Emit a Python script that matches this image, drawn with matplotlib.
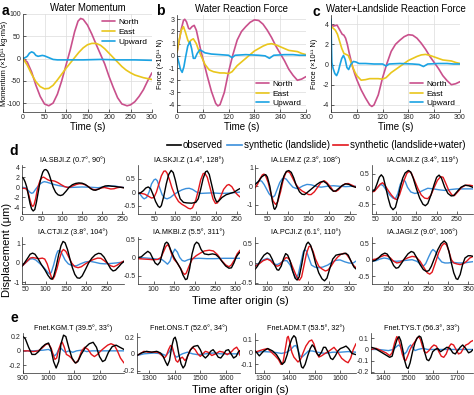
import matplotlib
matplotlib.use('Agg')
import matplotlib.pyplot as plt
from matplotlib.ticker import FuncFormatter
from matplotlib.lines import Line2D

plt.rcParams['font.family'] = ['Liberation Sans', 'DejaVu Sans']
plt.rcParams['axes.unicode_minus'] = False

# ---------------- panel a: water momentum (x1e11 kg m/s) ----------------
a_north = [(0, 0), (10, -8), (20, -30), (30, -60), (40, -85), (50, -102), (60, -106), (70, -100),
           (80, -80), (90, -50), (100, -15), (110, 20), (120, 60), (128, 84), (134, 90), (140, 88),
           (150, 75), (160, 55), (170, 32), (180, 10), (190, -12), (200, -40), (210, -65),
           (220, -88), (230, -102), (242, -106), (250, -104), (260, -97), (270, -85), (280, -70),
           (290, -50), (300, -32)]
a_east = [(0, 0), (10, -15), (20, -35), (30, -52), (40, -63), (50, -68), (60, -67), (70, -60),
          (80, -48), (90, -35), (100, -22), (110, -10), (120, 2), (130, 14), (140, 24), (150, 31),
          (160, 34), (170, 34), (180, 30), (190, 22), (200, 12), (210, 2), (220, -8), (230, -18),
          (240, -26), (250, -32), (260, -37), (270, -40), (280, -43), (290, -45), (300, -47)]
a_up = [(0, 0), (5, 2), (10, 5), (15, 12), (20, 15), (25, 13), (30, 7), (35, 5), (40, 6),
        (45, 7), (50, 6), (60, 2), (70, -2), (80, -3), (100, -3), (140, -3), (180, -2),
        (220, -3), (260, -3), (300, -4)]

# ---------------- panel b: water reaction force (x1e11 N) ----------------
b_north = [(0, 0.3), (5, 1.2), (10, 2.2), (15, 2.9), (18, 3.0), (22, 2.8), (27, 2.25), (30, 2.2),
           (35, 2.4), (40, 2.5), (45, 2.1), (50, 1.3), (55, 0.5), (60, -0.2), (70, -1.6),
           (80, -2.9), (90, -3.9), (95, -4.1), (100, -4.0), (110, -3.0), (120, -1.3), (130, 0.1),
           (140, 1.3), (150, 2.0), (160, 2.4), (170, 2.75), (180, 2.95), (190, 2.9), (200, 2.6),
           (210, 2.1), (220, 1.5), (230, 0.8), (240, 0.2), (250, -0.4), (260, -1.1), (270, -1.6),
           (280, -2.0), (290, -1.9), (300, -1.7)]
b_east = [(0, 0.3), (5, 1.3), (10, 2.1), (15, 2.4), (20, 1.9), (25, 1.3), (28, 1.1), (33, 1.3),
          (38, 1.4), (45, 1.0), (50, 0.5), (56, 0.0), (65, -0.7), (75, -1.15), (85, -1.3),
          (100, -1.4), (110, -1.4), (120, -1.45), (128, -1.3), (140, -0.8), (150, -0.5),
          (160, -0.2), (170, 0.1), (180, 0.4), (190, 0.6), (200, 0.8), (210, 0.95), (220, 1.0),
          (230, 0.9), (240, 0.75), (250, 0.6), (260, 0.45), (270, 0.4), (280, 0.35), (290, 0.2),
          (300, 0.1)]
b_up = [(0, 0), (4, -0.5), (8, -1.1), (12, -1.35), (16, -0.9), (20, -0.1), (25, 0.8), (30, 1.15),
        (34, 0.6), (38, -0.2), (42, -0.2), (47, 0.2), (53, 0.5), (58, 0.4), (65, 0.25),
        (80, 0.15), (100, 0.1), (120, 0.05), (128, -0.15), (135, 0.05), (160, 0.1), (190, 0.05),
        (205, 0.0), (215, -0.2), (225, 0.05), (250, 0.1), (270, 0.1), (285, 0.05), (300, 0.05)]

# ---------------- panel c: water+landslide reaction force ----------------
c_north = [(0, 4.0), (5, 3.8), (10, 3.85), (14, 3.9), (18, 3.6), (22, 3.3), (26, 3.0), (30, 2.9),
           (34, 2.6), (38, 2.0), (42, 1.2), (46, 0.5), (50, -0.2), (55, -0.9), (60, -1.5),
           (70, -2.5), (80, -3.3), (90, -4.0), (95, -4.15), (100, -4.0), (110, -3.0), (120, -1.3),
           (130, 0.1), (140, 1.3), (150, 2.0), (160, 2.4), (170, 2.75), (180, 2.95), (190, 2.9),
           (200, 2.6), (210, 2.1), (220, 1.5), (230, 0.8), (240, 0.2), (250, -0.4), (260, -1.1),
           (270, -1.6), (280, -2.0), (290, -1.9), (300, -1.7)]
c_east = [(0, 3.8), (5, 3.6), (10, 3.4), (15, 3.0), (20, 2.3), (25, 1.6), (30, 1.1), (35, 1.0),
          (40, 0.9), (45, 0.4), (50, -0.2), (55, -0.7), (60, -1.1), (70, -1.55), (80, -1.5),
          (90, -1.4), (110, -1.4), (120, -1.45), (128, -1.3), (140, -0.8), (150, -0.5),
          (160, -0.2), (170, 0.1), (180, 0.4), (190, 0.6), (200, 0.8), (210, 0.95), (220, 1.0),
          (230, 0.9), (240, 0.75), (250, 0.6), (260, 0.45), (270, 0.4), (280, 0.35), (290, 0.2),
          (300, 0.1)]
c_up = [(0, 4.5), (1, 2.0), (2, 0.2), (5, -0.4), (9, -0.9), (13, -1.1), (17, -0.7), (21, 0.0),
        (25, 0.6), (29, 0.9), (33, 0.5), (37, -0.3), (41, -0.5), (46, 0.0), (52, 0.3),
        (58, 0.25), (65, 0.1), (80, 0.1), (100, 0.05), (120, 0.05), (128, -0.15), (135, 0.05),
        (160, 0.1), (190, 0.05), (205, 0.0), (215, -0.2), (225, 0.05), (250, 0.1), (270, 0.1),
        (285, 0.05), (300, 0.05)]

# ---------------- panel d: IA stations (um) ----------------
d_titles = ['IA.SBJI.Z (0.7°, 90°)', 'IA.SKJI.Z (1.4°, 128°)', 'IA.LEM.Z (2.3°, 108°)',
            'IA.CMJI.Z (3.4°, 119°)', 'IA.CTJI.Z (3.8°, 104°)', 'IA.MKBI.Z (5.5°, 311°)',
            'IA.PCJI.Z (6.1°, 110°)', 'IA.JAGI.Z (9.0°, 106°)']
d_xlims = [(0, 255), (9, 258), (20, 265), (40, 290), (42, 293), (62, 311), (70, 317), (110, 362)]
d_xticks = [[0, 50, 100, 150, 200, 250], [50, 100, 150, 200, 250], [50, 100, 150, 200, 250],
            [50, 100, 150, 200, 250], [50, 100, 150, 200, 250], [100, 150, 200, 250, 300],
            [100, 150, 200, 250, 300], [150, 200, 250, 300, 350]]
d_ylims = [(-5.3, 4.4), (-0.81, 1.0), (-1.5, 1.15), (-0.82, 0.78), (-1.1, 1.35), (-0.72, 0.56),
           (-0.53, 0.66), (-0.74, 0.69)]
d_yticks = [[-4, -2, 0, 2, 4], [-0.5, 0, 0.5], [-1, 0, 1], [-0.5, 0, 0.5], [-1, 0, 1],
            [-0.5, 0, 0.5], [-0.5, 0, 0.5], [-0.5, 0, 0.5]]

sbji_obs = [(0, 2.0), (4, 1.7), (8, 1.0), (12, 0.0), (16, -1.6), (20, -3.2), (24, -4.3), (28, -4.7),
            (32, -4.4), (36, -3.0), (40, -1.2), (44, 0.6), (48, 2.0), (52, 3.0), (56, 3.45),
            (60, 3.5), (64, 3.2), (68, 2.5), (74, 1.0), (78, 0.0), (84, -1.0), (90, -1.5),
            (96, -1.65), (102, -1.5), (110, -0.8), (118, 0.0), (126, 0.5), (134, 0.75), (142, 0.85),
            (150, 0.8), (158, 0.55), (166, 0.1), (172, -0.3), (178, -0.55), (184, -0.6),
            (192, -0.35), (200, 0.0), (208, 0.25), (216, 0.3), (224, 0.2), (232, 0.15), (240, 0.05),
            (250, -0.05), (255, -0.1)]
sbji_land = [(0, 0.0), (8, -0.1), (14, -0.5), (20, -1.0), (24, -1.2), (28, -1.1), (34, -0.4),
             (40, 0.2), (46, 0.7), (52, 1.0), (56, 1.1), (62, 1.0), (70, 0.8), (80, 0.55),
             (90, 0.35), (100, 0.2), (110, 0.05), (120, -0.05), (135, 0.0), (150, 0.05), (170, 0.0),
             (190, -0.1), (205, 0.05), (220, 0.25), (235, 0.2), (245, 0.05), (255, -0.05)]
sbji_both = [(0, -0.2), (8, -0.25), (12, -0.4), (16, -1.2), (20, -2.5), (24, -3.5), (27, -3.8),
             (30, -3.5), (34, -2.3), (38, -0.6), (42, 0.6), (46, 1.5), (50, 1.9), (54, 2.0),
             (58, 1.8), (64, 1.5), (70, 1.3), (76, 1.3), (82, 1.2), (90, 0.9), (98, 0.5),
             (106, 0.15), (114, -0.05), (120, 0.0), (128, 0.3), (136, 0.55), (144, 0.7),
             (152, 0.65), (160, 0.4), (168, 0.0), (176, -0.4), (182, -0.5), (190, -0.4),
             (198, -0.15), (206, -0.05), (214, -0.2), (222, -0.35), (230, -0.3), (238, -0.1),
             (246, 0.0), (255, -0.1)]

skji_obs = [(9, -0.06), (15, -0.03), (22, 0.05), (28, 0.15), (34, 0.19), (40, 0.12), (46, -0.1),
            (52, -0.35), (58, -0.52), (62, -0.57), (66, -0.5), (72, -0.15), (78, 0.3), (84, 0.65),
            (90, 0.8), (95, 0.72), (100, 0.45), (106, 0.05), (112, -0.25), (120, -0.38),
            (128, -0.4), (140, -0.41), (150, -0.38), (156, -0.25), (162, 0.1), (168, 0.5),
            (174, 0.75), (178, 0.78), (183, 0.65), (190, 0.2), (196, -0.2), (201, -0.37),
            (206, -0.33), (214, -0.2), (224, -0.1), (234, -0.05), (244, 0.0), (252, 0.08),
            (258, 0.13)]
skji_land = [(9, 0.0), (14, -0.08), (20, -0.2), (24, -0.25), (30, -0.2), (36, 0.0), (42, 0.3),
             (48, 0.45), (52, 0.48), (56, 0.42), (62, 0.15), (68, -0.1), (74, -0.22), (80, -0.25),
             (88, -0.2), (96, -0.1), (106, 0.0), (116, 0.08), (126, 0.13), (134, 0.14), (142, 0.1),
             (152, 0.0), (162, -0.05), (174, -0.04), (190, -0.03), (210, -0.05), (230, -0.04),
             (245, -0.02), (258, 0.0)]
skji_both = [(9, -0.04), (18, -0.05), (26, -0.08), (34, -0.15), (42, -0.22), (48, -0.2), (54, 0.0),
             (60, 0.3), (66, 0.6), (72, 0.77), (76, 0.78), (80, 0.7), (86, 0.45), (92, 0.15),
             (100, -0.15), (108, -0.35), (116, -0.45), (124, -0.52), (132, -0.6), (137, -0.62),
             (142, -0.58), (150, -0.3), (156, 0.05), (162, 0.45), (168, 0.68), (172, 0.7),
             (178, 0.55), (186, 0.1), (192, -0.25), (198, -0.42), (203, -0.4), (210, -0.2),
             (218, 0.1), (226, 0.25), (231, 0.28), (238, 0.2), (246, 0.0), (252, -0.1), (258, -0.18)]

lem_obs = [(20, 0.09), (28, 0.25), (36, 0.5), (42, 0.6), (46, 0.63), (50, 0.5), (56, 0.0),
           (62, -0.8), (66, -1.2), (68, -1.25), (72, -1.1), (78, -0.5), (84, 0.1), (90, 0.55),
           (96, 0.8), (102, 0.85), (108, 0.75), (114, 0.45), (120, 0.05), (128, -0.3), (134, -0.43),
           (140, -0.45), (146, -0.35), (154, -0.2), (162, -0.05), (170, 0.1), (178, 0.22),
           (186, 0.27), (194, 0.15), (202, -0.1), (210, -0.27), (216, -0.25), (224, -0.1),
           (232, 0.05), (240, 0.13), (248, 0.1), (256, 0.0), (265, -0.06)]
lem_land = [(20, 0.09), (26, 0.22), (32, 0.3), (36, 0.28), (42, 0.1), (48, -0.15), (54, -0.4),
            (60, -0.55), (64, -0.58), (68, -0.5), (74, -0.15), (80, 0.2), (86, 0.4), (90, 0.45),
            (96, 0.38), (104, 0.15), (112, -0.05), (120, -0.12), (128, -0.08), (136, 0.02),
            (146, 0.1), (156, 0.08), (168, 0.0), (180, -0.05), (195, 0.0), (210, 0.03), (225, 0.0),
            (240, -0.02), (255, 0.0), (265, 0.0)]
lem_both = [(20, -0.09), (26, 0.1), (32, 0.4), (38, 0.62), (42, 0.66), (46, 0.55), (52, 0.2),
            (58, -0.35), (64, -0.8), (70, -0.98), (75, -0.85), (82, -0.3), (88, 0.3), (94, 0.7),
            (98, 0.8), (104, 0.75), (110, 0.5), (118, 0.15), (126, -0.1), (134, -0.25),
            (142, -0.35), (150, -0.45), (156, -0.45), (164, -0.3), (172, -0.05), (180, 0.2),
            (188, 0.3), (194, 0.2), (202, 0.0), (210, -0.25), (216, -0.28), (222, -0.2), (230, 0.0),
            (238, 0.13), (246, 0.15), (256, 0.05), (265, -0.05)]

cmji_obs = [(40, -0.08), (46, -0.05), (52, 0.15), (58, 0.38), (63, 0.46), (68, 0.38), (74, 0.05),
            (80, -0.3), (86, -0.58), (92, -0.68), (98, -0.6), (104, -0.3), (110, 0.05), (116, 0.35),
            (122, 0.52), (130, 0.6), (136, 0.55), (142, 0.35), (150, 0.0), (158, -0.3), (166, -0.5),
            (172, -0.55), (178, -0.48), (186, -0.2), (194, 0.15), (200, 0.38), (206, 0.45),
            (212, 0.35), (220, 0.05), (228, -0.15), (236, -0.23), (242, -0.22), (250, -0.1),
            (260, 0.05), (270, 0.12), (280, 0.1), (290, 0.05)]
cmji_land = [(40, -0.08), (48, -0.03), (56, 0.08), (62, 0.15), (68, 0.1), (76, -0.05), (84, -0.2),
             (92, -0.3), (98, -0.32), (104, -0.15), (110, 0.15), (116, 0.3), (122, 0.25),
             (128, 0.05), (136, -0.1), (146, -0.15), (156, -0.12), (166, -0.05), (178, 0.02),
             (192, 0.0), (206, -0.03), (220, -0.05), (235, -0.02), (250, 0.0), (270, 0.0), (290, 0.0)]
cmji_both = [(40, -0.1), (46, -0.08), (54, 0.05), (60, 0.15), (66, 0.2), (72, 0.12), (80, -0.05),
             (88, -0.2), (96, -0.32), (102, -0.35), (108, -0.2), (114, 0.05), (120, 0.3),
             (126, 0.5), (132, 0.58), (138, 0.5), (146, 0.25), (154, 0.0), (162, -0.2), (170, -0.3),
             (178, -0.32), (186, -0.2), (194, 0.05), (202, 0.28), (210, 0.4), (216, 0.38),
             (222, 0.2), (230, -0.05), (238, -0.2), (244, -0.22), (252, -0.1), (262, 0.05),
             (272, 0.12), (282, 0.12), (290, 0.1)]

ctji_obs = [(42, -0.17), (48, 0.0), (56, 0.25), (62, 0.45), (68, 0.51), (74, 0.45), (82, 0.2),
            (90, -0.1), (98, -0.35), (106, -0.65), (112, -0.82), (116, -0.85), (120, -0.7),
            (126, -0.2), (132, 0.4), (138, 0.9), (143, 1.12), (148, 1.05), (154, 0.7), (160, 0.2),
            (166, -0.25), (172, -0.6), (178, -0.78), (184, -0.8), (190, -0.68), (198, -0.35),
            (206, 0.0), (214, 0.25), (222, 0.42), (230, 0.5), (236, 0.48), (244, 0.3), (252, 0.0),
            (260, -0.3), (266, -0.42), (272, -0.38), (280, -0.2), (286, -0.05), (293, 0.08)]
ctji_land = [(42, -0.17), (48, -0.05), (56, 0.1), (62, 0.2), (68, 0.22), (76, 0.15), (84, 0.0),
             (92, -0.15), (100, -0.35), (106, -0.5), (110, -0.58), (114, -0.5), (120, -0.1),
             (126, 0.4), (130, 0.62), (134, 0.65), (140, 0.5), (148, 0.15), (156, -0.05),
             (166, -0.15), (176, -0.15), (186, -0.05), (198, 0.05), (210, 0.08), (222, 0.03),
             (234, -0.03), (246, -0.05), (260, -0.03), (275, 0.0), (293, 0.05)]
ctji_both = [(42, -0.17), (48, -0.05), (56, 0.12), (62, 0.25), (68, 0.28), (76, 0.25), (84, 0.22),
             (92, 0.25), (98, 0.2), (104, -0.05), (110, -0.45), (115, -0.8), (118, -0.85),
             (122, -0.7), (128, -0.3), (134, 0.2), (140, 0.6), (144, 0.7), (150, 0.6), (156, 0.35),
             (164, 0.0), (172, -0.2), (180, -0.25), (188, -0.2), (198, -0.05), (208, 0.08),
             (218, 0.18), (228, 0.25), (236, 0.24), (244, 0.12), (252, -0.02), (260, -0.15),
             (268, -0.2), (276, -0.12), (284, 0.0), (293, 0.1)]

mkbi_obs = [(62, 0.0), (70, 0.02), (78, 0.1), (86, 0.17), (92, 0.12), (98, -0.02), (104, -0.15),
            (110, -0.2), (116, -0.12), (122, 0.15), (128, 0.38), (132, 0.42), (136, 0.38),
            (142, 0.2), (150, 0.0), (158, -0.15), (166, -0.3), (172, -0.48), (178, -0.6),
            (182, -0.58), (188, -0.3), (194, 0.1), (200, 0.35), (205, 0.42), (210, 0.38),
            (216, 0.22), (224, 0.1), (234, 0.08), (244, 0.1), (252, 0.08), (260, 0.0),
            (268, -0.12), (276, -0.23), (284, -0.29), (290, -0.28), (296, -0.15), (302, 0.02),
            (307, 0.1), (311, 0.15)]
mkbi_land = [(62, 0.0), (80, -0.01), (100, -0.03), (112, -0.05), (120, -0.05), (128, -0.12),
             (134, -0.18), (140, -0.1), (146, 0.1), (152, 0.23), (158, 0.15), (164, 0.0),
             (170, -0.08), (176, -0.1), (184, -0.06), (194, -0.03), (210, -0.02), (230, -0.03),
             (250, -0.03), (270, -0.02), (290, -0.02), (311, -0.02)]
mkbi_both = [(62, -0.03), (75, -0.04), (90, -0.05), (100, -0.06), (110, -0.05), (118, 0.0),
             (124, 0.15), (130, 0.3), (134, 0.35), (138, 0.3), (144, 0.1), (150, -0.05),
             (158, -0.15), (166, -0.3), (172, -0.42), (176, -0.46), (180, -0.42), (186, -0.25),
             (194, -0.05), (204, 0.05), (214, 0.12), (224, 0.18), (236, 0.2), (246, 0.18),
             (256, 0.08), (266, -0.08), (276, -0.2), (284, -0.25), (290, -0.2), (298, -0.05),
             (304, 0.1), (311, 0.2)]

pcji_obs = [(70, -0.16), (76, -0.08), (84, 0.08), (92, 0.2), (100, 0.26), (106, 0.22), (112, 0.1),
            (118, -0.05), (124, -0.17), (128, -0.18), (134, -0.08), (140, 0.12), (145, 0.24),
            (150, 0.2), (156, 0.05), (162, -0.2), (168, -0.38), (173, -0.43), (178, -0.35),
            (184, -0.05), (190, 0.3), (196, 0.48), (200, 0.53), (206, 0.45), (212, 0.25),
            (218, 0.0), (226, -0.25), (234, -0.4), (240, -0.45), (246, -0.38), (254, -0.1),
            (260, 0.1), (268, 0.2), (276, 0.22), (284, 0.23), (292, 0.25), (298, 0.2), (306, 0.02),
            (312, -0.1), (317, -0.15)]
pcji_land = [(70, -0.08), (80, 0.0), (90, 0.08), (100, 0.12), (108, 0.08), (116, -0.02),
             (124, -0.04), (132, 0.0), (140, 0.06), (148, 0.06), (156, -0.05), (162, -0.2),
             (168, -0.35), (171, -0.37), (176, -0.28), (182, 0.0), (188, 0.28), (192, 0.34),
             (196, 0.3), (202, 0.12), (208, -0.05), (216, -0.1), (226, -0.12), (236, -0.1),
             (248, -0.05), (258, 0.02), (268, 0.07), (278, 0.08), (290, 0.03), (300, 0.0),
             (310, 0.0), (317, 0.05)]
pcji_both = [(70, -0.08), (80, -0.02), (90, 0.06), (100, 0.1), (108, 0.06), (116, -0.03),
             (124, -0.08), (130, -0.06), (138, 0.05), (146, 0.14), (152, 0.12), (158, 0.0),
             (164, -0.15), (170, -0.3), (176, -0.42), (179, -0.43), (184, -0.35), (190, -0.05),
             (196, 0.25), (202, 0.42), (206, 0.43), (212, 0.3), (218, 0.1), (226, -0.08),
             (234, -0.15), (242, -0.2), (248, -0.18), (256, -0.08), (264, 0.05), (272, 0.15),
             (280, 0.22), (288, 0.25), (294, 0.22), (302, 0.1), (310, -0.05), (317, -0.12)]

jagi_obs = [(110, -0.05), (118, -0.02), (126, 0.05), (134, 0.15), (142, 0.2), (148, 0.17),
            (156, 0.02), (164, -0.18), (170, -0.26), (176, -0.24), (184, -0.1), (192, 0.05),
            (200, 0.18), (208, 0.25), (214, 0.22), (222, 0.05), (230, -0.15), (238, -0.3),
            (246, -0.36), (252, -0.33), (258, -0.2), (266, 0.05), (274, 0.3), (282, 0.48),
            (290, 0.57), (296, 0.5), (302, 0.25), (308, -0.1), (314, -0.4), (320, -0.58),
            (324, -0.6), (330, -0.45), (336, -0.15), (342, 0.05), (350, 0.12), (356, 0.12),
            (362, 0.1)]
jagi_land = [(110, -0.05), (120, -0.03), (130, 0.02), (140, 0.05), (150, 0.03), (160, -0.03),
             (170, -0.05), (180, -0.04), (195, -0.02), (210, 0.0), (222, -0.05), (232, -0.15),
             (238, -0.2), (244, -0.12), (252, 0.1), (258, 0.25), (262, 0.31), (268, 0.25),
             (276, 0.05), (284, -0.07), (292, -0.1), (300, -0.1), (312, -0.08), (325, -0.1),
             (340, -0.1), (350, -0.08), (362, -0.06)]
jagi_both = [(110, 0.0), (120, 0.02), (130, 0.08), (140, 0.13), (148, 0.12), (156, 0.05),
             (164, -0.05), (172, -0.1), (180, -0.08), (190, 0.0), (200, 0.06), (210, 0.1),
             (220, 0.08), (230, -0.05), (240, -0.25), (248, -0.4), (254, -0.44), (260, -0.38),
             (268, -0.1), (276, 0.2), (284, 0.42), (290, 0.5), (296, 0.45), (302, 0.25), (308, 0.0),
             (314, -0.1), (322, -0.13), (330, -0.15), (338, -0.12), (346, -0.05), (354, 0.05),
             (362, 0.1)]

# ---------------- panel e: F-net stations (um) ----------------
e_titles = ['Fnet.KGM.T (39.5°, 33°)', 'Fnet.ONS.T (52.6°, 34°)', 'Fnet.ADM.T (53.5°, 32°)',
            'Fnet.TYS.T (56.3°, 33°)']
e_xlims = [(900, 1296), (1253, 1655), (1266, 1661), (1349, 1764)]
e_xticks = [[900, 1000, 1100, 1200], [1300, 1400, 1500, 1600], [1300, 1400, 1500, 1600],
            [1400, 1500, 1600, 1700]]
e_ylims = [(-0.31, 0.25), (-0.23, 0.25), (-0.17, 0.157), (-0.21, 0.147)]
e_yticks = [[-0.2, 0, 0.2], [-0.2, 0, 0.2], [-0.1, 0, 0.1], [-0.2, -0.1, 0, 0.1]]

kgm_obs = [(900, 0.2), (909, 0.17), (922, 0.05), (935, -0.05), (948, -0.05), (961, -0.01),
           (974, 0.05), (987, 0.09), (1000, 0.11), (1010, 0.02), (1020, -0.15), (1030, -0.24),
           (1040, -0.15), (1049, 0.1), (1059, 0.22), (1068, 0.2), (1079, 0.05), (1092, -0.1),
           (1105, -0.17), (1115, -0.15), (1128, -0.05), (1145, 0.05), (1160, 0.1), (1175, 0.12),
           (1188, 0.05), (1200, -0.08), (1212, -0.15), (1222, -0.13), (1235, -0.02), (1250, 0.06),
           (1265, 0.08), (1280, 0.05), (1296, 0.02)]
kgm_land = [(900, 0.0), (940, 0.0), (980, 0.01), (1000, 0.02), (1010, 0.0), (1018, -0.05),
            (1024, -0.07), (1032, -0.04), (1040, 0.02), (1048, 0.04), (1056, 0.01), (1066, -0.02),
            (1080, 0.0), (1095, -0.02), (1110, 0.0), (1130, 0.01), (1150, -0.01), (1170, 0.0),
            (1220, 0.0), (1296, 0.0)]
kgm_both = [(900, 0.0), (920, 0.0), (940, -0.01), (960, 0.0), (975, 0.04), (990, 0.09), (1000, 0.1),
            (1010, 0.04), (1018, -0.05), (1025, -0.12), (1032, -0.1), (1040, 0.02), (1048, 0.1),
            (1054, 0.12), (1062, 0.05), (1070, -0.05), (1080, -0.07), (1090, -0.1), (1100, -0.15),
            (1108, -0.17), (1118, -0.12), (1130, 0.0), (1142, 0.05), (1155, 0.02), (1168, -0.05),
            (1180, -0.08), (1192, -0.05), (1205, 0.0), (1218, 0.04), (1232, 0.08), (1245, 0.1),
            (1258, 0.08), (1270, 0.0), (1282, -0.1), (1296, -0.17)]

ons_obs = [(1253, -0.02), (1270, 0.01), (1290, 0.03), (1310, 0.02), (1330, 0.03), (1345, 0.01),
           (1355, -0.03), (1365, -0.1), (1372, -0.14), (1380, -0.08), (1388, 0.08), (1396, 0.18),
           (1402, 0.2), (1408, 0.14), (1416, 0.0), (1425, -0.12), (1433, -0.17), (1440, -0.14),
           (1450, -0.03), (1462, 0.05), (1475, 0.09), (1490, 0.1), (1500, 0.05), (1510, -0.02),
           (1520, -0.05), (1530, -0.02), (1540, 0.03), (1550, 0.05), (1560, 0.01), (1570, -0.04),
           (1580, -0.05), (1590, -0.01), (1600, 0.04), (1610, 0.05), (1620, 0.0), (1630, -0.05),
           (1640, -0.03), (1648, 0.02), (1655, 0.04)]
ons_land = [(1253, -0.02), (1280, 0.0), (1320, 0.01), (1350, 0.0), (1365, -0.02), (1378, 0.02),
            (1386, 0.06), (1392, 0.05), (1400, -0.02), (1408, -0.04), (1418, -0.02), (1430, 0.0),
            (1450, 0.02), (1470, 0.0), (1490, -0.01), (1520, 0.0), (1550, 0.01), (1580, 0.0),
            (1620, 0.0), (1655, 0.0)]
ons_both = [(1253, -0.02), (1265, 0.0), (1280, 0.03), (1295, 0.02), (1315, 0.02), (1335, 0.02),
            (1350, -0.02), (1360, -0.05), (1368, -0.02), (1376, 0.05), (1384, 0.1), (1390, 0.09),
            (1398, 0.0), (1405, -0.08), (1412, -0.1), (1420, -0.06), (1430, -0.04), (1440, -0.08),
            (1448, -0.05), (1458, 0.03), (1470, 0.08), (1480, 0.05), (1490, 0.0), (1500, -0.03),
            (1510, 0.0), (1520, 0.03), (1530, 0.02), (1545, -0.02), (1560, 0.0), (1575, 0.03),
            (1590, 0.02), (1605, -0.01), (1620, 0.02), (1632, 0.06), (1642, 0.08), (1650, 0.04),
            (1655, -0.02)]

adm_obs = [(1266, 0.014), (1283, -0.03), (1300, 0.01), (1316, 0.03), (1335, 0.01), (1350, -0.02),
           (1362, -0.06), (1372, -0.1), (1382, -0.08), (1392, -0.02), (1400, 0.05), (1410, 0.11),
           (1418, 0.135), (1425, 0.12), (1432, 0.05), (1440, -0.05), (1448, -0.12), (1454, -0.13),
           (1462, -0.1), (1472, -0.03), (1482, 0.03), (1490, 0.06), (1498, 0.04), (1508, -0.01),
           (1516, -0.03), (1526, 0.0), (1534, 0.04), (1542, 0.04), (1552, 0.0), (1562, -0.05),
           (1570, -0.06), (1580, -0.03), (1590, 0.01), (1600, 0.03), (1612, 0.04), (1622, 0.05),
           (1632, 0.03), (1645, -0.01), (1661, -0.02)]
adm_land = [(1266, 0.0), (1300, 0.005), (1340, 0.0), (1370, -0.01), (1390, 0.0), (1405, 0.02),
            (1418, 0.05), (1426, 0.055), (1434, 0.02), (1442, -0.03), (1450, -0.04), (1460, -0.02),
            (1475, 0.01), (1490, 0.01), (1510, 0.0), (1540, -0.01), (1570, 0.0), (1600, 0.0),
            (1630, 0.005), (1661, 0.0)]
adm_both = [(1266, 0.0), (1280, 0.01), (1295, 0.02), (1315, 0.03), (1330, 0.0), (1345, -0.03),
            (1358, -0.06), (1368, -0.1), (1376, -0.08), (1384, 0.02), (1392, 0.12), (1396, 0.13),
            (1402, 0.08), (1410, 0.0), (1418, -0.04), (1426, -0.06), (1434, -0.08), (1444, -0.06),
            (1455, 0.0), (1465, 0.05), (1478, 0.09), (1488, 0.1), (1496, 0.07), (1506, 0.0),
            (1516, -0.04), (1526, -0.03), (1540, -0.01), (1556, 0.01), (1575, 0.04), (1590, 0.0),
            (1605, -0.05), (1620, -0.075), (1630, -0.086), (1640, -0.05), (1650, 0.02), (1661, 0.07)]

tys_obs = [(1349, 0.02), (1365, 0.01), (1380, -0.01), (1395, -0.03), (1410, -0.05), (1425, -0.07),
           (1435, -0.06), (1445, 0.02), (1455, 0.09), (1463, 0.115), (1470, 0.08), (1478, 0.0),
           (1486, -0.1), (1494, -0.16), (1500, -0.17), (1508, -0.12), (1518, -0.02), (1528, 0.06),
           (1536, 0.1), (1545, 0.12), (1552, 0.11), (1560, 0.05), (1568, -0.03), (1576, -0.09),
           (1584, -0.1), (1592, -0.07), (1600, -0.02), (1610, 0.0), (1620, 0.01), (1632, -0.02),
           (1645, 0.0), (1658, 0.02), (1670, 0.01), (1682, -0.03), (1692, -0.04), (1702, -0.01),
           (1712, 0.02), (1722, 0.04), (1734, 0.01), (1746, -0.03), (1756, -0.02), (1764, 0.0)]
tys_land = [(1349, 0.0), (1380, 0.0), (1420, -0.01), (1440, 0.0), (1455, 0.03), (1462, 0.04),
            (1470, 0.02), (1478, -0.02), (1486, -0.04), (1494, -0.02), (1502, 0.02), (1510, 0.04),
            (1518, 0.02), (1528, -0.01), (1540, 0.0), (1560, 0.01), (1580, 0.0), (1650, 0.0),
            (1764, 0.0)]
tys_both = [(1349, 0.0), (1370, 0.01), (1390, -0.01), (1410, -0.03), (1425, -0.055), (1435, -0.03),
            (1445, 0.06), (1454, 0.115), (1460, 0.1), (1468, 0.04), (1476, -0.04), (1484, -0.09),
            (1490, -0.1), (1498, -0.06), (1508, 0.0), (1518, 0.04), (1528, 0.07), (1536, 0.1),
            (1543, 0.115), (1550, 0.09), (1558, 0.03), (1566, -0.02), (1575, -0.03), (1585, -0.01),
            (1595, 0.02), (1605, 0.04), (1615, 0.03), (1625, -0.02), (1635, -0.06), (1645, -0.07),
            (1655, -0.04), (1665, 0.02), (1675, 0.05), (1685, 0.04), (1695, 0.0), (1705, -0.04),
            (1715, -0.03), (1725, 0.01), (1735, 0.04), (1745, 0.05), (1755, 0.07), (1764, 0.08)]

d_obs = [sbji_obs, skji_obs, lem_obs, cmji_obs, ctji_obs, mkbi_obs, pcji_obs, jagi_obs]
d_land = [sbji_land, skji_land, lem_land, cmji_land, ctji_land, mkbi_land, pcji_land, jagi_land]
d_both = [sbji_both, skji_both, lem_both, cmji_both, ctji_both, mkbi_both, pcji_both, jagi_both]
e_obs = [kgm_obs, ons_obs, adm_obs, tys_obs]
e_land = [kgm_land, ons_land, adm_land, tys_land]
e_both = [kgm_both, ons_both, adm_both, tys_both]

# colours
C_NORTH = '#C9508C'
C_EAST = '#E9C61C'
C_UP = '#1BA3E3'
C_OBS = 'black'
C_LAND = '#3B8FDB'
C_BOTH = '#E3161C'
AX_COL = '#262626'

W, H = 474, 395
fig = plt.figure(figsize=(W / 100, H / 100), dpi=100)
fmt = FuncFormatter(lambda v, p: '{:g}'.format(v))


def box(l, t, r, b):
    return fig.add_axes([l / W, 1 - b / H, (r - l) / W, (b - t) / H])


def style(ax, fs=5):
    for s in ['top', 'right']:
        ax.spines[s].set_visible(False)
    for s in ['left', 'bottom']:
        ax.spines[s].set_linewidth(0.5)
        ax.spines[s].set_color(AX_COL)
    ax.tick_params(direction='in', length=2, width=0.5, labelsize=fs, pad=1.5,
                   colors=AX_COL)
    ax.xaxis.set_major_formatter(fmt)
    ax.yaxis.set_major_formatter(fmt)


def draw(ax, pairs, color, lw):
    t, v = zip(*pairs)
    ax.plot(t, v, color=color, lw=lw, solid_joinstyle='round', solid_capstyle='round')


"""################# PANELS a-c #################"""
top_boxes = [(23, 14, 152, 112), (177, 15, 306, 112), (331, 15, 460, 112)]
top_titles = ['Water Momentum', 'Water Reaction Force', 'Water+Landslide Reaction Force']
top_ylabels = ['Momentum (×10¹¹ kg·m/s)', 'Force (×10¹¹ N)', 'Force (×10¹¹ N)']
ylabel_x = [-0.118, -0.097, -0.097]
top_data = [(a_north, a_east, a_up), (b_north, b_east, b_up), (c_north, c_east, c_up)]
top_ylims = [(-120, 100), (-4.6, 3.35), (-4.7, 4.9)]
top_yticks = [[-100, -50, 0, 50, 100], [-4, -3, -2, -1, 0, 1, 2, 3], [-4, -2, 0, 2, 4]]
top_xticks = [[0, 50, 100, 150, 200, 250, 300], [0, 60, 120, 180, 240, 300],
              [0, 60, 120, 180, 240, 300]]
legend_locs = ['upper right', 'lower right', 'lower right']
letters = [('a', 5.5, 11), ('b', 160.5, 11), ('c', 316, 12), ('d', 14, 151), ('e', 14, 318)]

for i in range(3):
    ax = box(*top_boxes[i])
    style(ax)
    ax.grid(True, color='#DCDCDC', lw=0.5)
    ax.set_axisbelow(True)
    north, east, up = top_data[i]
    draw(ax, north, C_NORTH, 1.2)
    draw(ax, east, C_EAST, 1.2)
    draw(ax, up, C_UP, 1.2)
    ax.set_xlim(0, 300)
    ax.set_ylim(*top_ylims[i])
    ax.set_xticks(top_xticks[i])
    ax.set_yticks(top_yticks[i])
    ax.set_title(top_titles[i], fontsize=6.9, pad=2.5)
    ax.set_xlabel('Time (s)', fontsize=7, labelpad=1)
    ax.set_ylabel(top_ylabels[i], fontsize=5.3)
    ax.yaxis.set_label_coords(ylabel_x[i], 0.5)
    ax.legend(['North', 'East', 'Upward'], loc=legend_locs[i], frameon=False, fontsize=6,
              handlelength=1.6, handletextpad=0.4, labelspacing=0.25, borderaxespad=0.15)

"""################# PANELS d and e #################"""
d_cols = [(22, 124), (138, 240), (255, 356), (372, 473)]
e_cols = [(23, 124), (137, 240), (255, 356), (371, 473)]
d_rows = [(165, 214), (237, 284)]

for k in range(8):
    l, r = d_cols[k % 4]
    t, b = d_rows[k // 4]
    ax = box(l, t, r, b)
    style(ax)
    draw(ax, d_land[k], C_LAND, 1.0)
    draw(ax, d_both[k], C_BOTH, 1.0)
    draw(ax, d_obs[k], C_OBS, 1.0)
    ax.set_xlim(*d_xlims[k])
    ax.set_ylim(*d_ylims[k])
    ax.set_xticks(d_xticks[k])
    ax.set_yticks(d_yticks[k])
    ax.set_title(d_titles[k], fontsize=5.2, pad=2)

for k in range(4):
    l, r = e_cols[k]
    ax = box(l, 333, r, 373)
    style(ax)
    draw(ax, e_land[k], C_LAND, 1.0)
    draw(ax, e_both[k], C_BOTH, 1.0)
    draw(ax, e_obs[k], C_OBS, 1.0)
    ax.set_xlim(*e_xlims[k])
    ax.set_ylim(*e_ylims[k])
    ax.set_xticks(e_xticks[k])
    ax.set_yticks(e_yticks[k])
    ax.set_title(e_titles[k], fontsize=5.2, pad=2)

handles = [Line2D([], [], color=C_OBS, lw=1.2), Line2D([], [], color=C_LAND, lw=1.2),
           Line2D([], [], color=C_BOTH, lw=1.2)]
fig.legend(handles, ['observed', 'synthetic (landslide)', 'synthetic (landslide+water)'],
           loc='center', bbox_to_anchor=(316 / W, 1 - 145 / H), ncol=3, frameon=False,
           fontsize=7, handlelength=1.5, handletextpad=0.2, columnspacing=0.4)

fig.text(7 / W, 1 - 250 / H, 'Displacement (μm)', rotation=90, ha='center', va='center',
         fontsize=8)
fig.text(240 / W, 1 - 301 / H, 'Time after origin (s)', ha='center', va='center', fontsize=8)
fig.text(240 / W, 1 - 390 / H, 'Time after origin (s)', ha='center', va='center', fontsize=8)
for s, x, y in letters:
    fig.text(x / W, 1 - y / H, s, ha='center', va='center', fontsize=10, fontweight='bold')

fig.savefig('out.png', dpi=100)
